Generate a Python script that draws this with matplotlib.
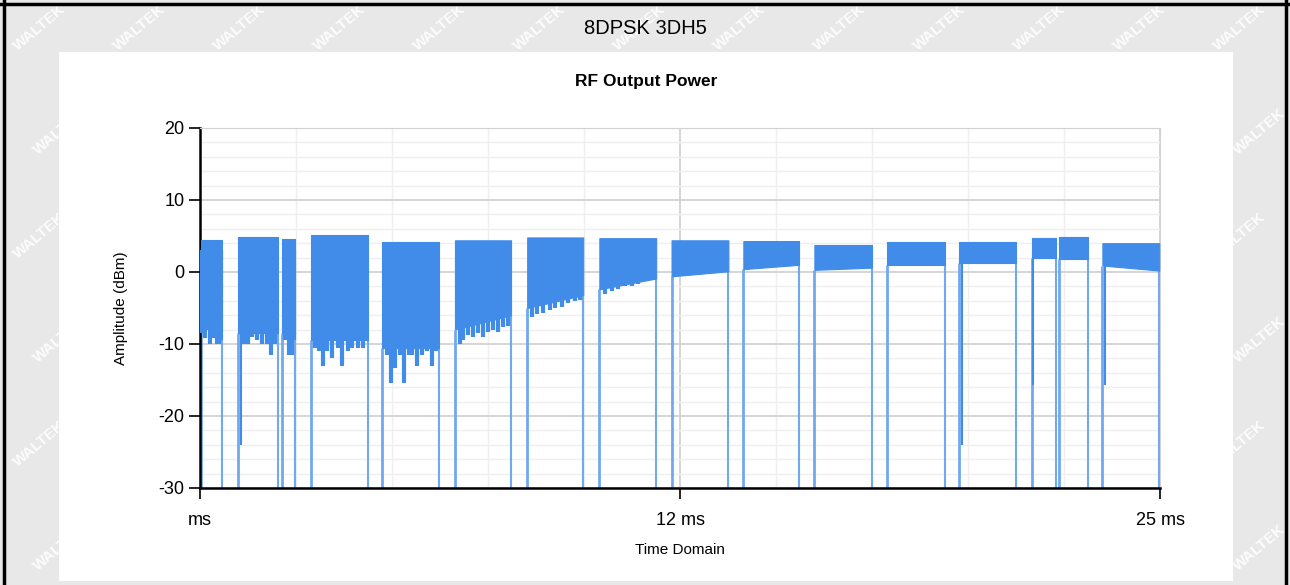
import matplotlib
matplotlib.use('Agg')
import matplotlib.pyplot as plt
from matplotlib.patches import Rectangle
from matplotlib.lines import Line2D
from matplotlib.ticker import MultipleLocator

plt.rcParams['font.family'] = ['Liberation Sans', 'DejaVu Sans']
plt.rcParams['axes.unicode_minus'] = False

# burst envelopes (time in ms, level in dBm)
burst_start = [0.03, 1.00, 2.13, 2.88, 4.75, 6.64, 8.52, 10.40, 12.28, 14.15, 16.00, 17.90, 19.77, 21.66, 22.37, 23.50]
burst_end = [0.58, 2.02, 2.47, 4.37, 6.22, 8.10, 9.98, 11.88, 13.76, 15.60, 17.50, 19.40, 21.25, 22.28, 23.12, 24.98]
burst_top = [4.4, 4.8, 4.6, 5.2, 4.1, 4.4, 4.8, 4.7, 4.4, 4.3, 3.75, 4.2, 4.2, 4.7, 4.8, 4.0]
floor_start = [-7.5, -8.5, -8.5, -9.5, -10.5, -8.0, -5.0, -2.4, -0.6, 0.4, 0.3, 1.0, 1.2, 2.0, 1.8, 0.9]
floor_end = [-7.5, -8.5, -8.5, -9.5, -10.5, -6.0, -3.2, -0.9, 0.1, 1.0, 0.6, 1.0, 1.2, 2.0, 1.8, 0.2]

# downward spikes below the burst body
spike_t = [0.06, 0.12, 0.18, 0.26, 0.32, 0.37, 0.43, 0.49, 0.54,
           1.15, 1.26, 1.36, 1.48, 1.61, 1.74, 1.85, 1.95,
           2.21, 2.32, 2.39, 2.44,
           2.99, 3.10, 3.21, 3.32, 3.45, 3.59, 3.71, 3.85, 3.97, 4.12, 4.25,
           4.86, 4.97, 5.08, 5.21, 5.31, 5.43, 5.53, 5.64, 5.77, 5.90, 6.03, 6.14,
           6.77, 6.86, 6.99, 7.12, 7.25, 7.38, 7.51, 7.64, 7.77, 7.90, 8.03,
           8.64, 8.77, 8.94, 9.11, 9.24, 9.42, 9.59, 9.77, 9.90,
           10.55, 10.72, 10.89, 11.07, 11.24, 11.41, 11.59, 11.76]
spike_depth = [-8.5, -9.2, -8.0, -10.0, -9.0, -9.2, -10.0, -10.0, -9.5,
               -10.0, -10.0, -9.0, -9.5, -10.0, -10.0, -11.5, -10.0,
               -9.5, -11.5, -11.5, -9.5,
               -10.5, -11.0, -13.0, -11.0, -12.0, -10.5, -13.0, -11.0, -10.5, -10.5, -10.5,
               -11.5, -15.4, -13.3, -11.5, -15.4, -11.5, -11.5, -13.0, -11.5, -11.0, -13.0, -11.0,
               -10.0, -9.5, -8.8, -9.0, -8.5, -9.0, -8.4, -8.0, -8.3, -7.6, -7.5,
               -6.2, -5.8, -5.7, -5.3, -5.0, -4.8, -4.3, -4.0, -3.9,
               -3.0, -2.6, -2.4, -2.0, -1.9, -1.6, -1.3, -1.1]

# isolated deep dips
deep_t = [1.06, 19.84, 21.69, 23.57]
deep_depth = [-24.0, -24.0, -15.7, -15.7]

BLUE = '#418be9'
DROP = '#72a8ee'

fig = plt.figure(figsize=(12.9, 5.85), dpi=100, facecolor='#e8e8e8')

# watermark grid over the whole sheet (hidden under the white panel)
for row in range(6):
    for col in range(13):
        px = 40 + col * 100 + (row % 2) * 20
        py = 28 + row * 104
        fig.text(px / 1290, 1 - py / 585, 'WALTEK', rotation=40, color='white', alpha=0.9,
                 fontsize=11, fontweight='bold', ha='center', va='center', zorder=-3)

# white chart panel
fig.patches.append(Rectangle((59 / 1290, 1 - 581 / 585), 1174 / 1290, 529 / 585,
                             transform=fig.transFigure, facecolor='white',
                             edgecolor='none', zorder=-2))

# black frame
for xs, ys in [([0, 1], [1 - 4 / 585] * 2), ([4 / 1290] * 2, [0, 1]), ([1286 / 1290] * 2, [0, 1])]:
    fig.add_artist(Line2D(xs, ys, color='black', lw=2.5, transform=fig.transFigure))

fig.text(645 / 1290, 1 - 29 / 585, '8DPSK 3DH5', ha='center', va='center', fontsize=14.5)
fig.text(646 / 1290, 1 - 82 / 585, 'RF Output Power', ha='center', va='center',
         fontsize=12.5, fontweight='bold')

ax = fig.add_axes([200 / 1290, 1 - 488 / 585, 960 / 1290, 360 / 585])
ax.set_facecolor('white')

for s, e, top, fs, fe in zip(burst_start, burst_end, burst_top, floor_start, floor_end):
    ax.fill_between([s, e], [fs, fe], [top, top], color=BLUE, lw=0.8, edgecolor=BLUE, zorder=3)

ax.vlines(spike_t, spike_depth, 3, color=BLUE, lw=3, zorder=3)
ax.vlines(deep_t, deep_depth, 3, color=BLUE, lw=1.5, zorder=3)
ax.vlines(burst_start, -30, floor_start, color=DROP, lw=2, zorder=2)
ax.vlines(burst_end, -30, floor_end, color=DROP, lw=1.5, zorder=2)

ax.set_xlim(0, 25)
ax.set_ylim(-30, 20)
ax.set_yticks([-30, -20, -10, 0, 10, 20])
ax.yaxis.set_minor_locator(MultipleLocator(2))
ax.set_xticks([0, 12.5, 25])
ax.set_xticklabels(['ms', '12 ms', '25 ms'])
ax.xaxis.set_minor_locator(MultipleLocator(2.5))

ax.grid(which='major', color='#d2d2d2', lw=1.3)
ax.grid(which='minor', color='#efefef', lw=1)
ax.set_axisbelow(True)

ax.tick_params(which='major', direction='out', length=8, width=1.2, labelsize=13, colors='black')
ax.tick_params(which='minor', length=0)
ax.tick_params(axis='x', pad=9)
ax.tick_params(axis='y', pad=3)

ax.spines['left'].set_linewidth(1.8)
ax.spines['bottom'].set_linewidth(1.8)
ax.spines['top'].set_color('#d2d2d2')
ax.spines['right'].set_color('#d2d2d2')

ax.set_xlabel('Time Domain', fontsize=11, labelpad=10)
ax.set_ylabel('Amplitude (dBm)', fontsize=11, labelpad=22)

fig.savefig('out.png', dpi=100, facecolor=fig.get_facecolor())
